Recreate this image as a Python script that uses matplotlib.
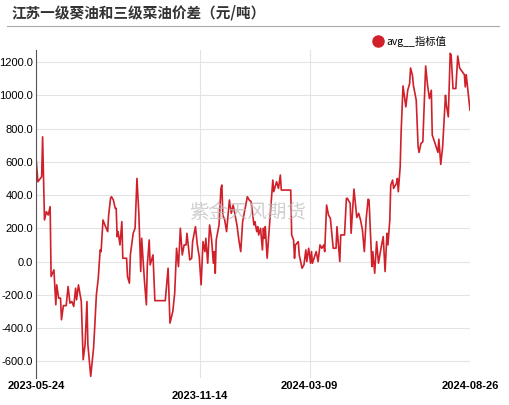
import matplotlib
matplotlib.use("Agg")
import matplotlib.pyplot as plt
import pandas as pd
from matplotlib.lines import Line2D

plt.rcParams['font.family'] = ['Noto Sans CJK SC', 'DejaVu Sans']

start = pd.Timestamp("2023-05-24")
day_offsets = [0,2,6,7,9,11,13,15,16,19,21,22,24,26,27,29,32,34,36,38,40,42,43,45,48,50,52,54,55,58,61,62,64,66,68,69,71,73,76,77,79,80,82,84,85,86,87,89,91,92,96,97,99,100,103,105,107,109,111,112,115,117,118,120,121,124,126,137,140,142,145,147,149,151,153,155,157,159,160,163,
165,166,169,171,173,175,177,179,180,182,184,186,188,189,190,191,194,196,197,198,200,202,205,207,209,211,213,215,217,219,221,224,226,228,231,232,234,235,236,238,240,241,242,243,245,248,251,252,255,257,259,260,270,271,273,274,275,278,279,282,284,286,287,289,291,292,293,297,299,301,303,305,306,308,310,312,315,318,319,322,
323,327,329,330,333,334,337,339,340,342,344,346,348,350,352,353,356,357,359,361,363,366,368,370,372,373,375,376,378,379,382,383,384,386,387,389,392,394,396,397,399,400,403,405,406,408,410,413,415,417,419,420,423,426,427,429,431,434,435,437,439,440,442,445,447,449,452,454,455,456,460]
values = [630,480,510,750,250,300,280,330,-90,-50,-260,-140,-220,-220,-350,-265,-265,-150,-250,-240,-270,-160,-230,-140,-240,-590,-500,-240,-500,-690,-520,-420,-200,-100,70,60,250,220,180,280,380,390,370,320,320,150,180,100,240,20,20,-90,-130,40,170,200,500,290,-60,140,-120,-260,-20,130,-20,40,-235,-235,-40,-370,-300,-190,80,-30,200,40,100,100,170,10,
20,120,210,100,30,-140,120,60,140,-10,220,140,-10,60,-70,130,220,440,460,280,250,180,370,290,340,280,220,130,60,240,300,390,370,360,220,240,180,210,160,200,70,200,140,210,20,260,490,420,480,440,520,430,430,160,130,20,100,120,40,-40,-20,70,0,80,-10,60,-10,60,0,100,80,100,60,340,280,260,80,80,210,0,
160,160,380,380,350,170,436,320,265,290,250,190,60,260,375,370,-30,60,-70,120,-10,90,150,-60,170,100,250,460,490,440,470,500,420,570,780,1056,930,1030,1070,1164,1120,1060,970,690,656,710,720,1176,1060,980,1030,760,710,656,736,584,690,1000,940,870,1252,1244,1040,1040,1236,1164,1140,1124,1050,1124,910]
tick_dates = ["2023-05-24", "2023-11-14", "2024-03-09", "2024-08-26"]
yticks = [-600, -400, -200, 0, 200, 400, 600, 800, 1000, 1200]

dates = [start + pd.Timedelta(days=d) for d in day_offsets]
red = "#d0202a"

fig = plt.figure(figsize=(5.09, 4.05), dpi=100)
ax = fig.add_axes([36/509, 27/405, 434/509, 328/405])
ax.plot(dates, values, color=red, lw=1.2)
ax.set_xlim(pd.Timestamp(tick_dates[0]), pd.Timestamp(tick_dates[-1]))
ax.set_ylim(-700, 1272)
ax.set_yticks(yticks)
ax.set_yticklabels([f"{v:.1f}" for v in yticks], fontsize=8, family='Liberation Sans')
ax.set_xticks([pd.Timestamp(t) for t in tick_dates])
ax.set_xticklabels(tick_dates, fontsize=8, fontweight='bold', family='Liberation Sans')
for i, lab in enumerate(ax.get_xticklabels()):
    if i == 1:
        lab.set_y(-0.03)
ax.tick_params(axis='both', length=0, pad=2)
ax.grid(True, color='#e3e3e3', lw=0.8)
ax.set_axisbelow(True)
for s in ['top', 'right', 'bottom']:
    ax.spines[s].set_visible(False)
ax.spines['left'].set_color('#555555')

fig.text(12/509, 1-12/405, "江苏一级葵油和三级菜油价差（元/吨）", fontsize=10.5, fontweight='bold',
         va='center', ha='left', color='#333333')
fig.add_artist(Line2D([7/509, 499/509], [1-26/405, 1-26/405], color='#aaaaaa', lw=0.8))
fig.text(248/509, 1-213/405, "紫金天风期货", fontsize=14, color='#bbbbbb', alpha=0.7,
         ha='center', va='center')
fig.add_artist(Line2D([378/509], [1-41/405], marker='o', ms=8, color=red, ls='none'))
fig.text(386/509, 1-41/405, "avg__指标值", fontsize=7.5, va='center', ha='left')

fig.savefig("out.png", dpi=100)
